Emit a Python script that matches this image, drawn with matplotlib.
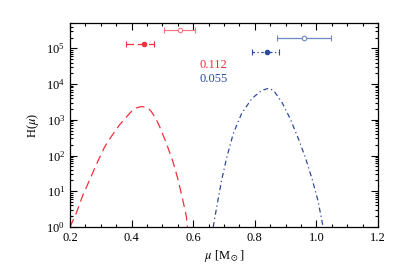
import matplotlib
matplotlib.use("Agg")
import matplotlib.pyplot as plt
import numpy as np
from matplotlib.ticker import MultipleLocator, LogLocator, NullFormatter

plt.rcParams["font.family"] = ["Liberation Serif", "DejaVu Serif"]
plt.rcParams["mathtext.fontset"] = "stix"

# red (dashed) distribution
mu_red = [0.200, 0.220, 0.242, 0.264, 0.285, 0.313, 0.334, 0.361, 0.399, 0.415,
          0.432, 0.448, 0.456, 0.464, 0.478, 0.491, 0.513, 0.534, 0.551, 0.565,
          0.578, 0.581]
h_red = [1.0, 2.4, 7.9, 21, 55, 178, 339, 724, 1700, 2140,
         2340, 2240, 2000, 1700, 1100, 646, 219, 68, 21, 6.3,
         1.95, 1.0]

# blue (dash-dot) distribution
mu_blue = [0.665, 0.676, 0.692, 0.709, 0.730, 0.757, 0.790, 0.822, 0.845, 0.861,
           0.888, 0.915, 0.942, 0.964, 0.986, 1.005, 1.020, 1.023]
h_blue = [1.0, 3.5, 20, 89, 407, 1480, 3890, 6610, 7590, 6610,
          3090, 1070, 288, 89, 22, 5.5, 1.2, 1.0]

# points with horizontal error bars: x, y, left err, right err
red_fill = (0.440, 1.32e5, 0.058, 0.032)
red_open = (0.557, 3.3e5, 0.051, 0.049)
blue_fill = (0.841, 7.8e4, 0.051, 0.039)
blue_open = (0.960, 2.0e5, 0.087, 0.087)

labels = ["0.112", "0.055"]

RED = "#f0303c"
RED_L = "#f07a84"
BLUE = "#2d4a9c"
BLUE_L = "#7087c4"

fig = plt.figure(figsize=(3.99, 2.73), dpi=100)
ax = fig.add_axes([70 / 399, 1 - 227 / 273, 308 / 399, 204 / 273])

ax.plot(mu_red, h_red, color=RED, lw=0.9, dashes=(7, 4))
ax.plot(mu_blue, h_blue, color=BLUE, lw=0.9, dashes=(4, 2.5, 1, 2.5))


def ebar(p, color, ls, filled):
    x, y, lo, hi = p
    mfc = color if filled else "white"
    _, caps, bars = ax.errorbar([x], [y], xerr=[[lo], [hi]], fmt="o", ms=3.2,
                                color=color, mfc=mfc, mec=color, mew=0.8,
                                elinewidth=0.9, capsize=2.2, capthick=0.9)
    bars[0].set_linestyle(ls)


ebar(red_open, RED_L, "-", False)
ebar(red_fill, RED, (0, (6, 3)), True)
ebar(blue_open, BLUE_L, "-", False)
ebar(blue_fill, BLUE, (0, (2, 2, 1, 2)), True)

ax.text(0.422, 0.794, labels[0], color=RED, fontsize=9, transform=ax.transAxes,
        va="center", ha="left")
ax.text(0.422, 0.727, labels[1], color=BLUE, fontsize=9, transform=ax.transAxes,
        va="center", ha="left")

ax.set_yscale("log")
ax.set_xlim(0.2, 1.2)
ax.set_ylim(1, 5.1e5)
ax.xaxis.set_major_locator(MultipleLocator(0.2))
ax.xaxis.set_minor_locator(MultipleLocator(0.05))
ax.yaxis.set_major_locator(LogLocator(base=10, numticks=10))
ax.yaxis.set_minor_locator(LogLocator(base=10, subs=np.arange(2, 10), numticks=20))
ax.yaxis.set_minor_formatter(NullFormatter())
ax.xaxis.set_major_formatter(plt.FuncFormatter(lambda v, _: f"{v:.1f}"))
ax.tick_params(which="both", direction="in", top=True, right=True, labelsize=9,
               width=0.8)
ax.tick_params(which="major", length=5)
ax.tick_params(which="minor", length=2.5)
for s in ax.spines.values():
    s.set_linewidth(0.9)

ax.set_xlabel(r"$\mu$ [M$_\odot$]", fontsize=9, labelpad=3)
ax.set_ylabel(r"H($\mu$)", fontsize=9, labelpad=4)

fig.savefig("out.png", dpi=100)
